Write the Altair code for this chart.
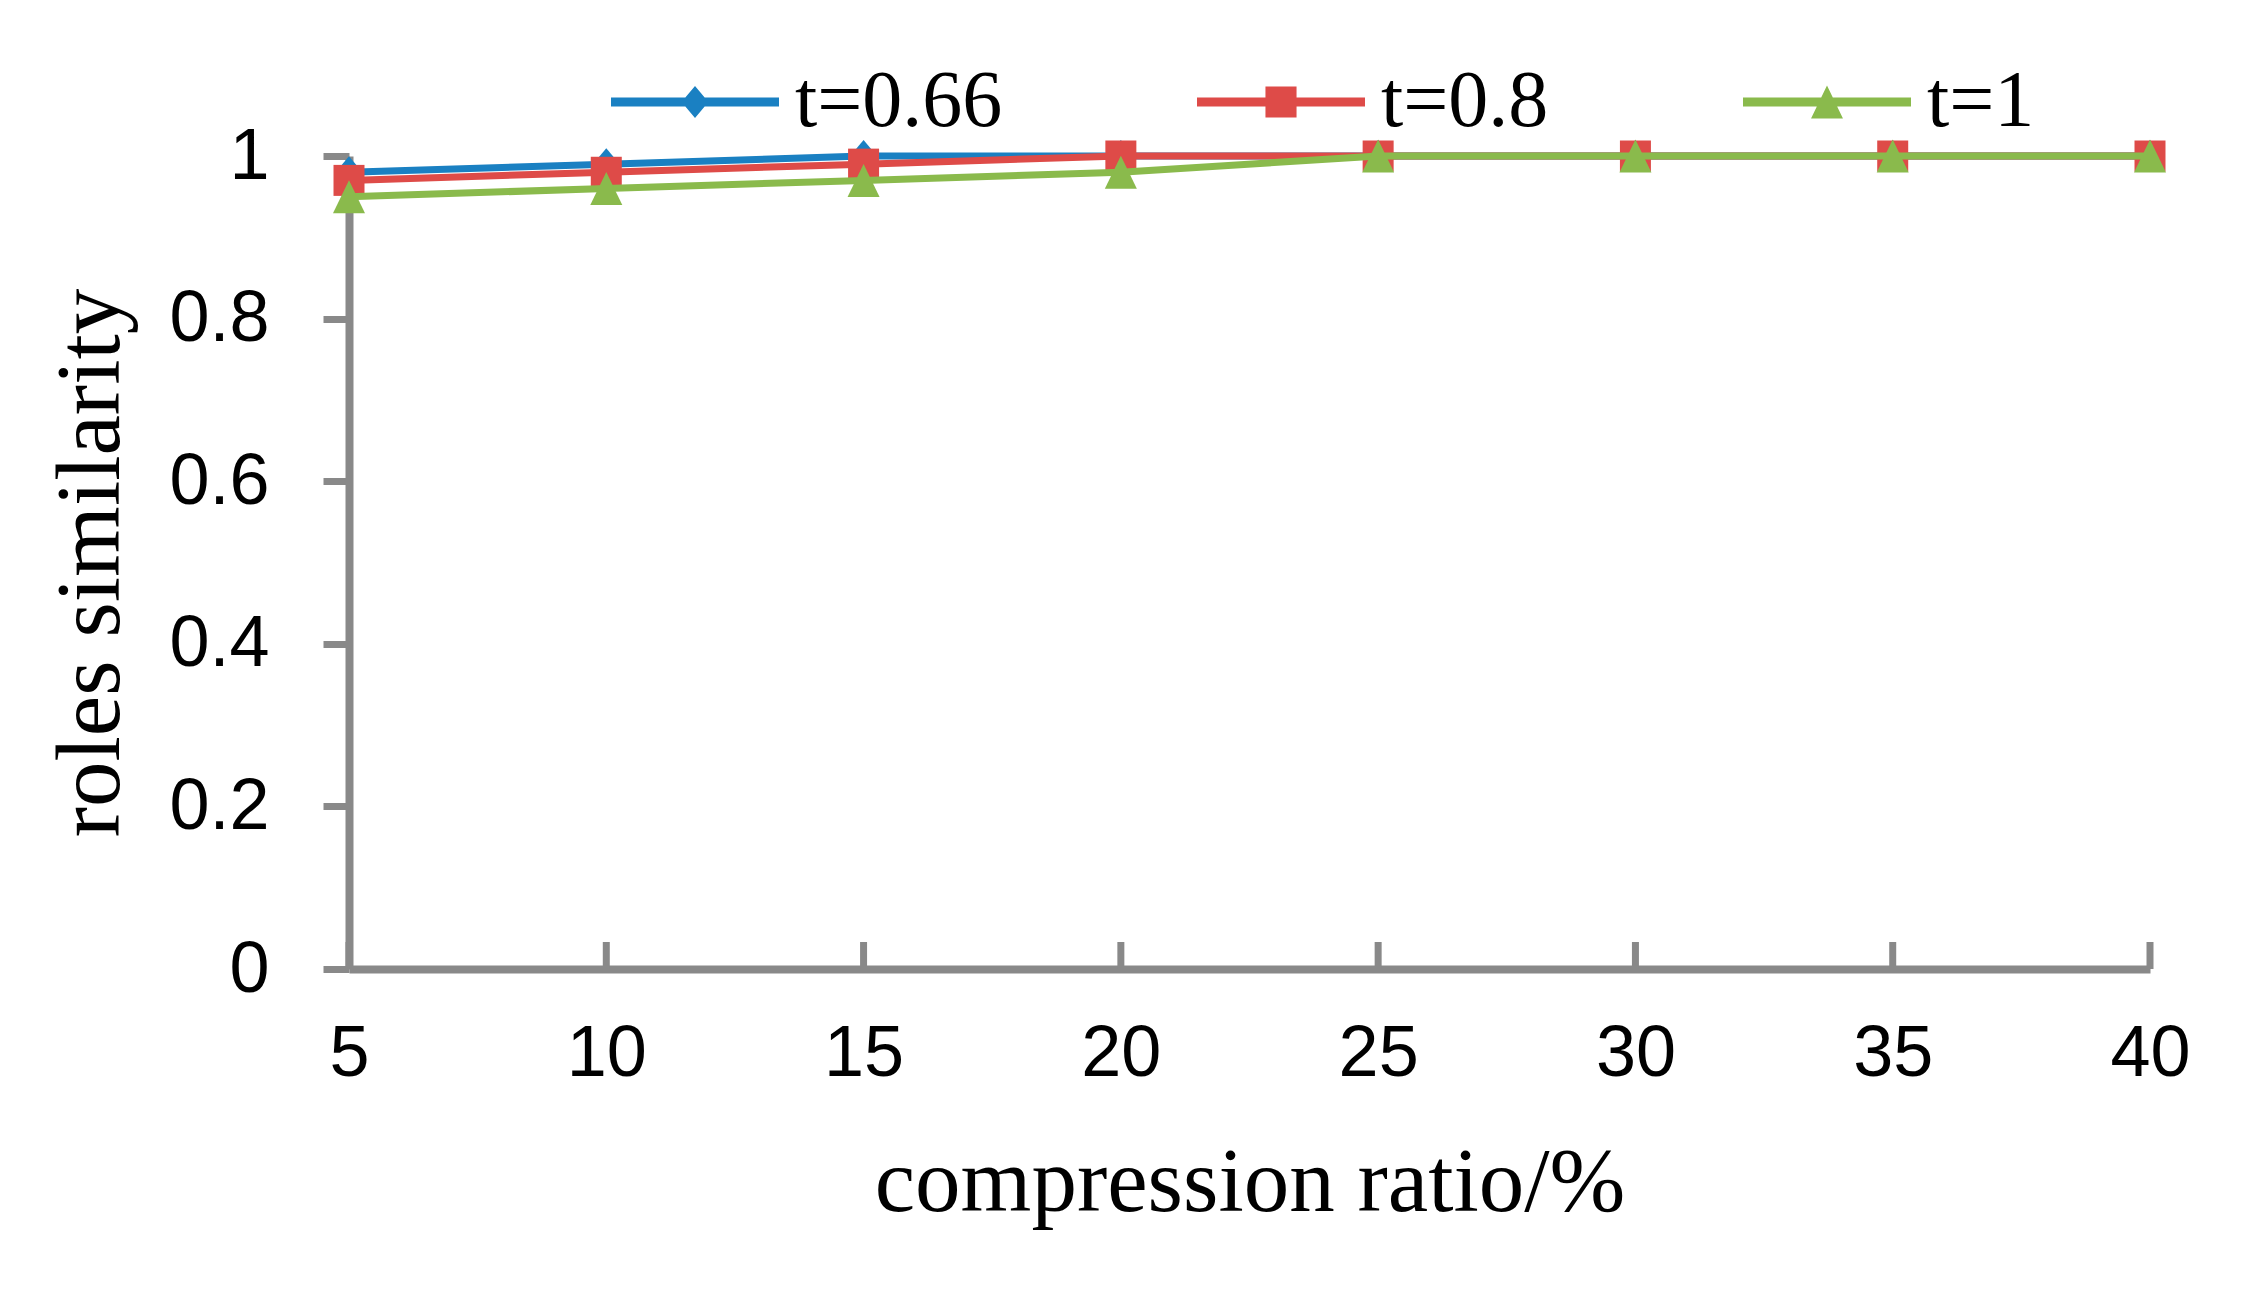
import altair as alt
import pandas as pd

# ---- data ----
ratio = [5, 10, 15, 20, 25, 30, 35, 40]
sim_t066 = [0.98, 0.99, 1.0, 1.0, 1.0, 1.0, 1.0, 1.0]
sim_t08 = [0.97, 0.98, 0.99, 1.0, 1.0, 1.0, 1.0, 1.0]
sim_t1 = [0.95, 0.96, 0.97, 0.98, 1.0, 1.0, 1.0, 1.0]
series_names = ["t=0.66", "t=0.8", "t=1"]
y_ticks = [0, 0.2, 0.4, 0.6, 0.8, 1]

# ---- styles ----
colors = ["#1a80c2", "#de4b48", "#8aba4c"]
point_paths = [
    "M0,-1L0.84,0L0,1L-0.84,0Z",          # diamond
    "M-1,-1H1V1H-1Z",                      # square
    "M0,-1L0.97,1L-0.97,1Z",               # triangle
]
point_sizes = [1024, 961, 1089]
legend_paths = [
    "M-1,-0.054H1V0.054H-1Z M0,-0.19L0.16,0L0,0.19L-0.16,0Z",
    "M-1,-0.054H1V0.054H-1Z M-0.185,-0.185H0.185V0.185H-0.185Z",
    "M-1,-0.054H1V0.054H-1Z M0,-0.196L0.19,0.196L-0.19,0.196Z",
]
AXIS_GRAY = "#898989"
W, H = 1801, 813

rows = []
for name, vals in zip(series_names, [sim_t066, sim_t08, sim_t1]):
    for r, v in zip(ratio, vals):
        rows.append({"ratio": r, "value": v, "series": name})
df = pd.DataFrame(rows)

x_enc = alt.X(
    "ratio:Q",
    scale=alt.Scale(domain=[5, 40], nice=False, zero=False),
    axis=alt.Axis(
        values=ratio, ticks=False, tickSize=0, grid=False,
        labelPadding=49, labelFlush=False, labelOverlap=False,
        labelFont="Liberation Sans", labelFontSize=72, labelColor="black",
        domainColor=AXIS_GRAY, domainWidth=8,
        title="compression ratio/%", titleFont="Liberation Serif",
        titleFontSize=91, titleFontWeight="normal", titleColor="black",
        titleX=W / 2, titleY=241, titleBaseline="alphabetic", titleAlign="center",
    ),
)
y_enc = alt.Y(
    "value:Q",
    scale=alt.Scale(domain=[0, 1], nice=False),
    axis=alt.Axis(
        values=y_ticks, format="~g", grid=False,
        tickSize=26, tickWidth=7, tickColor=AXIS_GRAY,
        labelPadding=54, labelFont="Liberation Sans", labelFontSize=72,
        labelColor="black",
        domainColor=AXIS_GRAY, domainWidth=8,
        title="roles similarity", titleFont="Liberation Serif",
        titleFontSize=91, titleFontWeight="normal", titleColor="black",
        titleAngle=270, titleX=-231, titleY=H / 2,
        titleBaseline="alphabetic", titleAlign="center",
    ),
)

# inward x ticks
tick_df = pd.DataFrame({"ratio": ratio})
xticks = alt.Chart(tick_df).mark_rule(color=AXIS_GRAY, strokeWidth=7).encode(
    x=alt.X("ratio:Q"), y=alt.value(H), y2=alt.value(H - 27)
)

layers = [xticks]
for name, c, p, s in zip(series_names, colors, point_paths, point_sizes):
    sub = alt.Chart(df).transform_filter(alt.datum.series == name)
    layers.append(sub.mark_line(color=c, strokeWidth=7).encode(x=x_enc, y=y_enc))
    layers.append(
        sub.mark_point(shape=p, size=s, filled=True, color=c, opacity=1, strokeWidth=0)
        .encode(x=x_enc, y=y_enc)
    )

legend = alt.Legend(
    title=None, orient="none", direction="horizontal",
    legendX=262, legendY=-138, padding=0,
    symbolSize=28224, symbolStrokeWidth=0, symbolOpacity=1,
    labelFont="Liberation Serif", labelFontSize=80, labelColor="black",
    labelOffset=16, labelLimit=600, columnPadding=194,
)
legend_layer = (
    alt.Chart(df)
    .transform_filter("false")
    .mark_point(filled=True, opacity=1)
    .encode(
        x=x_enc,
        y=y_enc,
        color=alt.Color("series:N", scale=alt.Scale(domain=series_names, range=colors), legend=legend),
        shape=alt.Shape("series:N", scale=alt.Scale(domain=series_names, range=legend_paths), legend=legend),
    )
)
layers.append(legend_layer)

chart = (
    alt.layer(*layers)
    .properties(
        width=W, height=H,
        autosize=alt.AutoSizeParams(type="none"),
        padding={"left": 341, "top": 148, "right": 108, "bottom": 300},
    )
    .configure_view(stroke=None)
)

chart.save("out.html", embed_options={"renderer": "svg", "actions": False})
